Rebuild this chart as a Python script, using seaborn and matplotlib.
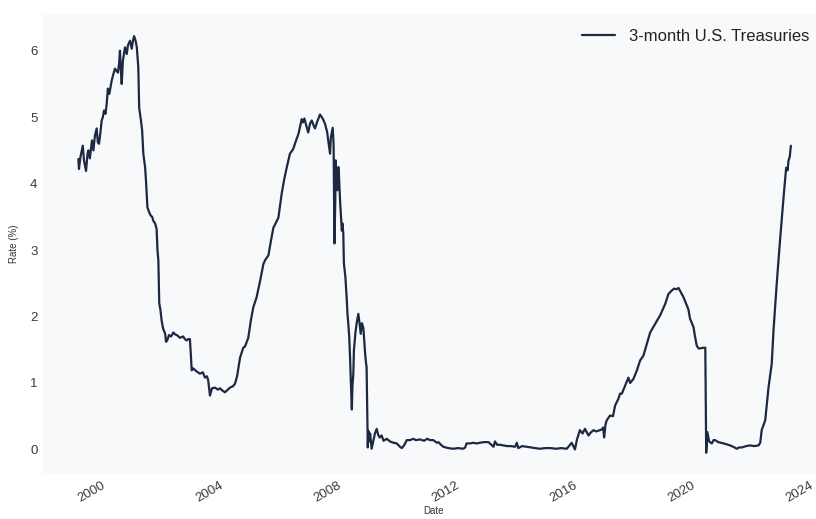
import numpy as np
import pandas as pd
import matplotlib
matplotlib.use("Agg")
import matplotlib.pyplot as plt
import matplotlib.dates as mdates
import seaborn as sns

# 3-month U.S. Treasury bill rate, decimal year -> rate (%)
years = [
    1999.03, 1999.05, 1999.10, 1999.18, 1999.22, 1999.29, 1999.34, 1999.37, 1999.42, 1999.49,
    1999.54, 1999.59, 1999.65, 1999.69, 1999.73, 1999.78, 1999.82, 1999.86, 1999.90, 1999.95,
    1999.99, 2000.03, 2000.08, 2000.16, 2000.20, 2000.27, 2000.32, 2000.37, 2000.41, 2000.44,
    2000.47, 2000.50, 2000.54, 2000.61, 2000.67, 2000.71, 2000.78, 2000.84, 2000.88, 2000.92,
    2000.97, 2001.01, 2001.06, 2001.09, 2001.12, 2001.15, 2001.19, 2001.23, 2001.29, 2001.32,
    2001.37, 2001.42, 2001.48, 2001.53, 2001.57, 2001.63, 2001.68, 2001.71, 2001.74, 2001.77,
    2001.81, 2001.85, 2001.90, 2001.97, 2002.00, 2002.04, 2002.10, 2002.17, 2002.25, 2002.31,
    2002.37, 2002.47, 2002.58, 2002.64, 2002.70, 2002.75, 2002.81, 2002.84, 2002.87, 2002.92,
    2003.02, 2003.15, 2003.25, 2003.32, 2003.39, 2003.43, 2003.49, 2003.56, 2003.66, 2003.76,
    2003.83, 2003.90, 2004.00, 2004.10, 2004.17, 2004.27, 2004.34, 2004.41, 2004.51, 2004.62,
    2004.68, 2004.79, 2004.88, 2004.96, 2005.07, 2005.19, 2005.30, 2005.36, 2005.47, 2005.56,
    2005.64, 2005.69, 2005.81, 2005.86, 2005.92, 2006.00, 2006.09, 2006.20, 2006.31, 2006.37,
    2006.49, 2006.54, 2006.60, 2006.64, 2006.69, 2006.75, 2006.82, 2006.88, 2006.94, 2007.00,
    2007.05, 2007.14, 2007.22, 2007.31, 2007.39, 2007.46, 2007.50, 2007.56, 2007.59, 2007.65,
    2007.68, 2007.71, 2007.74, 2007.75, 2007.78, 2007.81, 2007.84, 2007.86, 2007.90, 2007.93,
    2007.96, 2007.98, 2008.01, 2008.03, 2008.08, 2008.13, 2008.15, 2008.18, 2008.21, 2008.24,
    2008.26, 2008.30, 2008.32, 2008.35, 2008.37, 2008.42, 2008.46, 2008.52, 2008.56, 2008.60,
    2008.64, 2008.69, 2008.71, 2008.75, 2008.78, 2008.80, 2008.84, 2008.86, 2008.88, 2008.92,
    2008.97, 2009.02, 2009.08, 2009.14, 2009.19, 2009.24, 2009.31, 2009.37, 2009.48, 2009.59,
    2009.71, 2009.82, 2009.93, 2009.99, 2010.07, 2010.16, 2010.27, 2010.38, 2010.47, 2010.61,
    2010.75, 2010.85, 2010.95, 2011.06, 2011.18, 2011.23, 2011.32, 2011.40, 2011.56, 2011.74,
    2011.90, 2012.08, 2012.14, 2012.19, 2012.31, 2012.41, 2012.53, 2012.64, 2012.78, 2012.93,
    2013.00, 2013.10, 2013.15, 2013.22, 2013.32, 2013.43, 2013.56, 2013.69, 2013.83, 2013.89,
    2013.94, 2014.07, 2014.23, 2014.37, 2014.51, 2014.68, 2014.85, 2015.02, 2015.24, 2015.39,
    2015.58, 2015.66, 2015.75, 2015.86, 2015.93, 2016.03, 2016.12, 2016.20, 2016.32, 2016.39,
    2016.49, 2016.58, 2016.64, 2016.77, 2016.82, 2016.85, 2016.90, 2016.94, 2017.05, 2017.15,
    2017.22, 2017.33, 2017.39, 2017.45, 2017.56, 2017.67, 2017.73, 2017.84, 2017.96, 2018.07,
    2018.18, 2018.30, 2018.41, 2018.58, 2018.75, 2018.92, 2019.03, 2019.14, 2019.22, 2019.31,
    2019.37, 2019.42, 2019.54, 2019.65, 2019.71, 2019.76, 2019.88, 2019.93, 2019.99, 2020.05,
    2020.10, 2020.21, 2020.28, 2020.31, 2020.35, 2020.41, 2020.50, 2020.56, 2020.61, 2020.72,
    2020.89, 2020.98, 2021.12, 2021.22, 2021.35, 2021.42, 2021.52, 2021.66, 2021.80, 2021.93,
    2022.08, 2022.14, 2022.19, 2022.31, 2022.42, 2022.53, 2022.59, 2022.70, 2022.81, 2022.93,
    2023.02, 2023.07, 2023.10, 2023.14, 2023.18,
]
rates = [
    4.37, 4.22, 4.40, 4.57, 4.35, 4.19, 4.45, 4.50, 4.38, 4.65,
    4.50, 4.72, 4.83, 4.62, 4.60, 4.78, 4.95, 5.00, 5.10, 5.05,
    5.20, 5.43, 5.35, 5.55, 5.62, 5.73, 5.70, 5.67, 5.80, 6.00,
    5.70, 5.50, 5.85, 6.05, 5.95, 6.08, 6.15, 6.03, 6.15, 6.22,
    6.15, 6.05, 5.75, 5.14, 5.05, 4.95, 4.80, 4.45, 4.25, 4.05,
    3.64, 3.58, 3.52, 3.50, 3.44, 3.40, 3.32, 3.00, 2.84, 2.20,
    2.10, 1.94, 1.82, 1.74, 1.62, 1.64, 1.72, 1.70, 1.76, 1.73,
    1.72, 1.68, 1.70, 1.66, 1.64, 1.66, 1.66, 1.44, 1.19, 1.22,
    1.18, 1.14, 1.16, 1.08, 1.10, 1.04, 0.81, 0.92, 0.93, 0.90,
    0.92, 0.89, 0.86, 0.90, 0.93, 0.95, 0.99, 1.10, 1.38, 1.53,
    1.55, 1.68, 1.95, 2.14, 2.29, 2.54, 2.79, 2.85, 2.92, 3.15,
    3.34, 3.38, 3.49, 3.65, 3.85, 4.05, 4.24, 4.45, 4.52, 4.60,
    4.75, 4.85, 4.97, 4.92, 4.98, 4.88, 4.77, 4.90, 4.95, 4.88,
    4.83, 4.95, 5.04, 4.98, 4.90, 4.78, 4.65, 4.45, 4.70, 4.84,
    4.60, 3.10, 3.80, 4.35, 4.00, 3.90, 4.25, 4.15, 3.74, 3.50,
    3.29, 3.40, 3.25, 2.80, 2.60, 2.24, 2.05, 1.89, 1.70, 1.38,
    1.10, 0.60, 0.95, 1.14, 1.49, 1.75, 1.89, 2.04, 1.90, 1.74,
    1.90, 1.83, 1.70, 1.44, 1.30, 1.24, 0.03, 0.28, 0.12, 0.24,
    0.01, 0.12, 0.24, 0.31, 0.22, 0.18, 0.21, 0.13, 0.16, 0.12,
    0.10, 0.09, 0.04, 0.02, 0.06, 0.14, 0.14, 0.16, 0.14, 0.15,
    0.13, 0.16, 0.14, 0.14, 0.10, 0.11, 0.07, 0.04, 0.02, 0.01,
    0.02, 0.01, 0.03, 0.09, 0.09, 0.10, 0.09, 0.10, 0.11, 0.11,
    0.08, 0.04, 0.12, 0.07, 0.07, 0.06, 0.05, 0.05, 0.04, 0.10,
    0.02, 0.05, 0.04, 0.03, 0.02, 0.01, 0.02, 0.02, 0.01, 0.02,
    0.01, 0.05, 0.10, 0.00, 0.15, 0.29, 0.24, 0.31, 0.21, 0.25,
    0.29, 0.27, 0.28, 0.30, 0.33, 0.18, 0.38, 0.44, 0.51, 0.50,
    0.66, 0.76, 0.84, 0.84, 0.96, 1.08, 1.00, 1.06, 1.19, 1.34,
    1.41, 1.59, 1.76, 1.89, 2.02, 2.19, 2.34, 2.39, 2.42, 2.41,
    2.43, 2.39, 2.29, 2.17, 2.10, 1.97, 1.84, 1.70, 1.56, 1.52,
    1.52, 1.53, 1.53, -0.05, 0.26, 0.12, 0.09, 0.14, 0.14, 0.11,
    0.09, 0.08, 0.06, 0.04, 0.01, 0.03, 0.03, 0.05, 0.06, 0.05,
    0.06, 0.10, 0.29, 0.44, 0.93, 1.29, 1.79, 2.50, 3.14, 3.79,
    4.24, 4.20, 4.35, 4.40, 4.57,
]
series_label = "3-month U.S. Treasuries"


def to_dates(yrs):
    yrs = np.asarray(yrs, dtype=float)
    whole = np.floor(yrs).astype(int)
    start = pd.to_datetime([f"{y}-01-01" for y in whole])
    return start + pd.to_timedelta((yrs - whole) * 365.25, unit="D")


df = pd.DataFrame({"Date": to_dates(years), "Rate": rates})

sns.set_theme(style="white")
plt.rcParams["font.family"] = ["Liberation Sans", "DejaVu Sans"]

fig = plt.figure(figsize=(8.16, 5.19), dpi=100)
fig.patch.set_facecolor("white")
ax = fig.add_axes([0.0527, 0.0867, 0.957, 0.886])
ax.set_facecolor("#f7f9fb")

sns.lineplot(data=df, x="Date", y="Rate", ax=ax, color="#1d2942",
             linewidth=1.6, label=series_label)

ax.set_xlim(to_dates([1997.83, 2024.30]))
ax.set_ylim(-0.37, 6.55)
ax.xaxis.set_major_locator(mdates.YearLocator(4))
ax.xaxis.set_major_formatter(mdates.DateFormatter("%Y"))
ax.set_yticks([0, 1, 2, 3, 4, 5, 6])

for s in ax.spines.values():
    s.set_visible(False)
ax.tick_params(axis="both", length=0, labelsize=9.5, colors="#3a3a3a", pad=4)
for lbl in ax.get_xticklabels():
    lbl.set_rotation(30)
    lbl.set_ha("right")

ax.set_xlabel("Date", fontsize=7, color="#333333", labelpad=1)
ax.set_ylabel("Rate (%)", fontsize=7, color="#333333", labelpad=8)

leg = ax.legend(loc="upper right", frameon=False, fontsize=12)
for t in leg.get_texts():
    t.set_color("#222222")

fig.savefig("out.png", dpi=100)
